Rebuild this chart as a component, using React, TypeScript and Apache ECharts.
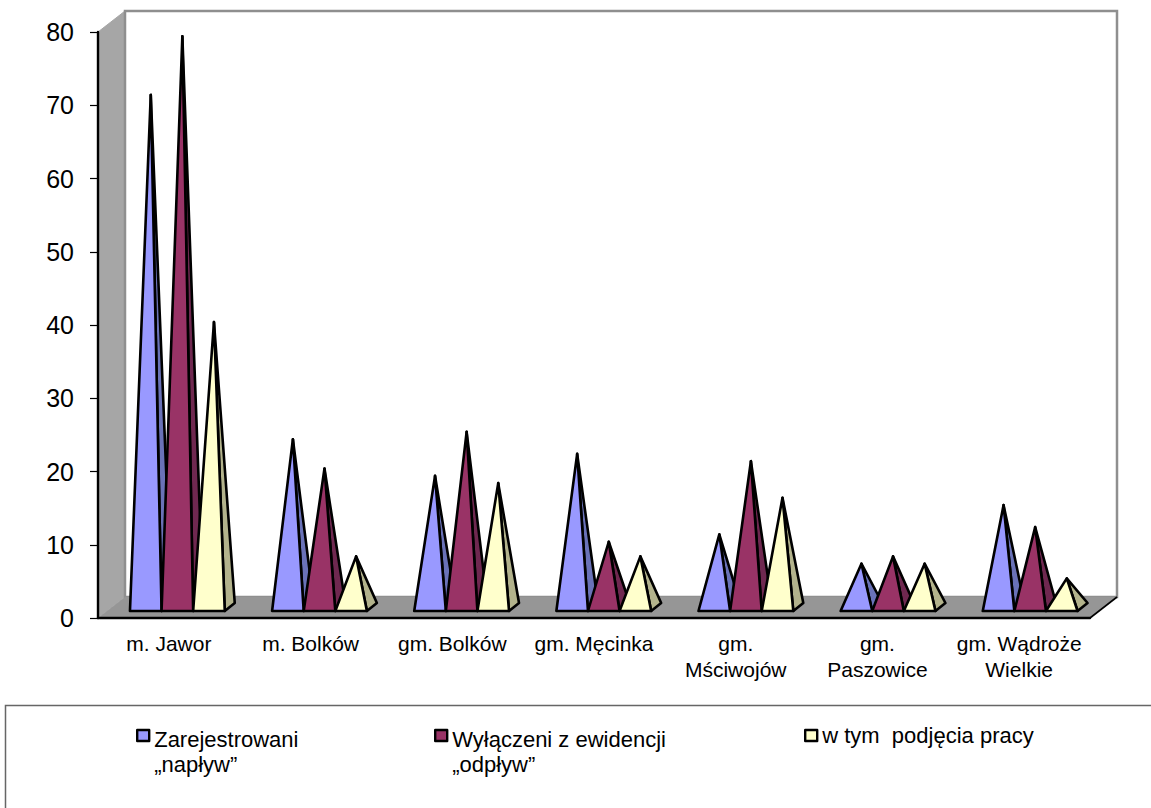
import React, { useEffect, useRef } from "react";
import * as echarts from "echarts";

const categories = ["m. Jawor", "m. Bolków", "gm. Bolków", "gm. Męcinka", "gm.\nMściwojów", "gm.\nPaszowice", "gm. Wądroże\nWielkie"];
const napływ = [71, 24, 19, 22, 11, 7, 15];
const odpływ = [79, 20, 25, 10, 21, 8, 12];
const podjęcia = [40, 8, 18, 8, 16, 7, 5];
const names = ["Zarejestrowani\n„napływ”", "Wyłączeni z ewidencji\n„odpływ”", "w tym  podjęcia pracy"];
const frontColors = ["#9999ff", "#993366", "#ffffcc"];
const sideColors = ["#6a72b8", "#6f2850", "#b3b38c"];
const yTicks = { min: 0, max: 80, interval: 10 };

const W = 1151, H = 808;
const L = 98, R = 1090, T = 32, B = 618;
const DX = 27, DY = 21;
const BAR = 31.6, PDX = 10, PDY = 8;

function pyramid(idx: number) {
  return (_p: any, api: any) => {
    const cat = api.value(0);
    const top = api.coord([cat, api.value(1)]);
    const base = api.coord([cat, 0]);
    const cx = top[0] + 8.5 + (idx - 1) * BAR + cat * 0.42;
    const yf = base[1] - 7;
    const xl = cx - BAR / 2, xr = cx + BAR / 2;
    const ax = cx + PDX / 2, ay = top[1] - 3;
    const stroke = { stroke: "#000", lineWidth: 2.6, lineJoin: "round" };
    return {
      type: "group",
      children: [
        { type: "polygon", shape: { points: [[xr, yf], [xr + PDX, yf - PDY], [ax, ay]] }, style: { fill: sideColors[idx], ...stroke } },
        { type: "polygon", shape: { points: [[xl, yf], [xr, yf], [ax, ay]] }, style: { fill: frontColors[idx], ...stroke } },
      ],
    };
  };
}

export default function App() {
  const ref = useRef<HTMLDivElement>(null);
  useEffect(() => {
    document.body.style.margin = "0";
    const chart = echarts.init(ref.current!, null, { renderer: "svg" });
    const font = "Liberation Sans";
    const values = [napływ, odpływ, podjęcia];
    chart.setOption({
      animation: false,
      backgroundColor: "#fff",
      textStyle: { fontFamily: font, color: "#000" },
      grid: { left: L, right: W - R, top: T, bottom: H - B, containLabel: false },
      xAxis: {
        type: "category",
        data: categories,
        z: 3,
        axisLine: { lineStyle: { color: "#000", width: 2.4 } },
        axisTick: { length: 6, lineStyle: { color: "#000", width: 1.2 } },
        axisLabel: { fontSize: 21, color: "#000", margin: 12, lineHeight: 26, interval: 0 },
      },
      yAxis: {
        type: "value",
        ...yTicks,
        z: 3,
        axisLine: { show: true, lineStyle: { color: "#000", width: 2.4 } },
        axisTick: { show: true, length: 8, lineStyle: { color: "#000", width: 1.2 } },
        splitLine: { show: false },
        axisLabel: { fontSize: 25, color: "#000", margin: 24 },
      },
      legend: [0, 1, 2].map((i) => ({
        data: [names[i]],
        left: [136, 434, 804][i],
        top: i < 2 ? 694 : 723,
        padding: 0,
        icon: "rect",
        itemWidth: 12,
        itemHeight: 11,
        itemGap: 0,
        selectedMode: false,
        itemStyle: { borderColor: "#000", borderWidth: 2.4, borderJoin: "round" },
        formatter: (name: string) =>
          name.includes("\n")
            ? "{s| }\n" + name.split("\n").map((t) => `{t|${t}}`).join("\n")
            : name,
        textStyle: {
          fontFamily: font,
          fontSize: 22,
          color: "#000",
          lineHeight: 25,
          rich: {
            s: { fontSize: 10, lineHeight: 33, height: 33 },
            t: { fontFamily: font, fontSize: 22, color: "#000", lineHeight: 25 },
          },
        },
      })),
      graphic: [
        { type: "polygon", z: -1, shape: { points: [[L, T], [L + DX, T - DY], [L + DX, B - DY], [L, B]] }, style: { fill: "#a6a6a6", stroke: "#a6a6a6", lineWidth: 1 } },
        { type: "rect", z: -1, shape: { x: L + DX, y: T - DY, width: R - L, height: B - T }, style: { fill: "#fff", stroke: "#8f8f8f", lineWidth: 2.5 } },
        { type: "polygon", z: -1, shape: { points: [[L, B], [L + DX, B - DY], [R + DX, B - DY], [R, B]] }, style: { fill: "#969696" } },
        { type: "line", z: -1, shape: { x1: R, y1: B, x2: R + DX, y2: B - DY }, style: { stroke: "#000", lineWidth: 1.6 } },
        { type: "rect", z: -1, shape: { x: 5.5, y: 705.5, width: 1200, height: 200 }, style: { fill: "#fff", stroke: "#666", lineWidth: 1.5 } },
      ],
      series: [0, 1, 2].map((i) => ({
        type: "custom",
        name: names[i],
        coordinateSystem: "cartesian2d",
        renderItem: pyramid(i),
        itemStyle: { color: frontColors[i] },
        encode: { x: 0, y: 1 },
        clip: false,
        data: values[i].map((v, c) => [c, v]),
      })),
    });
    return () => chart.dispose();
  }, []);
  return <div ref={ref} style={{ width: W, height: H }} />;
}
